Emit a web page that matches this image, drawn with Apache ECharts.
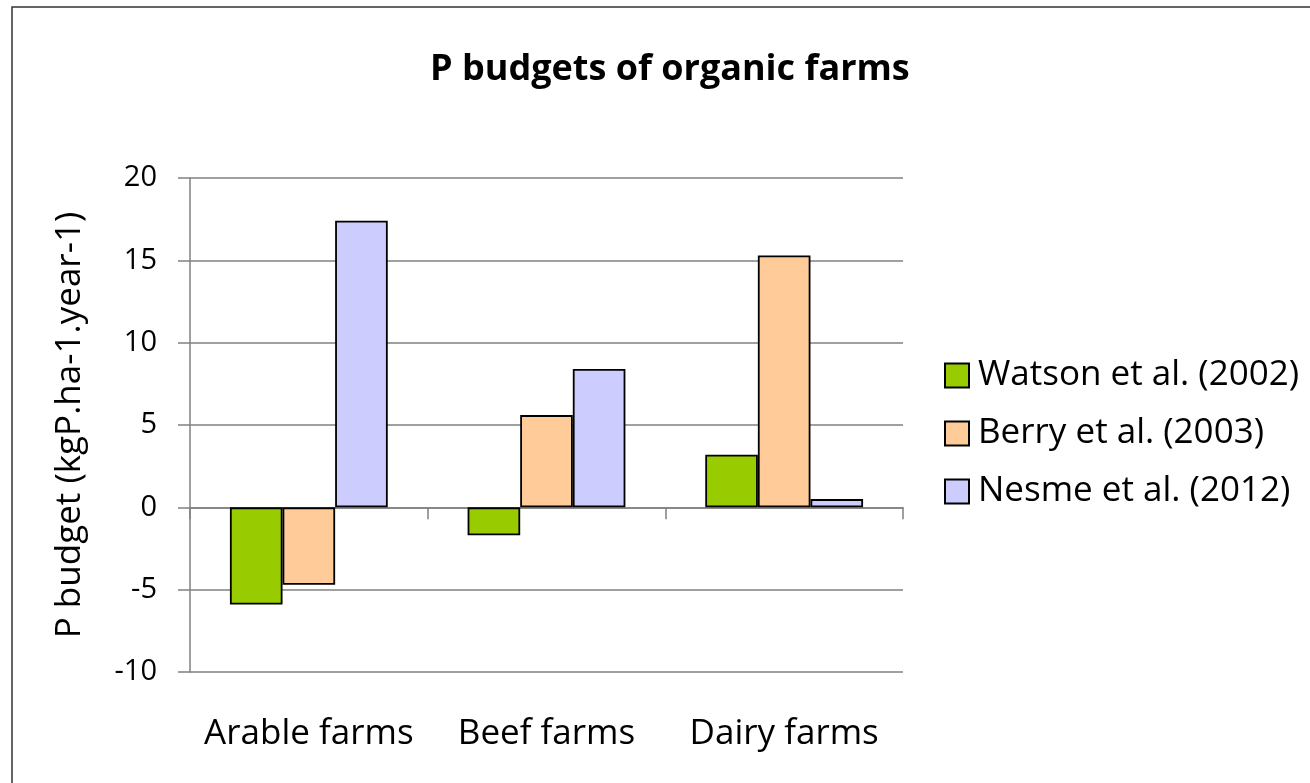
<!DOCTYPE html>
<html>
<head>
<meta charset="UTF-8">
<title>P budgets of organic farms</title>
<script src="https://cdn.jsdelivr.net/npm/echarts@6/dist/echarts.min.js"></script>
<style>
  html, body { margin: 0; padding: 0; background: #fff; }
</style>
</head>
<body>
<div id="main" style="width:1310px;height:783px;"></div>
<script>
var categories = ['Arable farms', 'Beef farms', 'Dairy farms'];
var seriesNames = ['Watson et al. (2002)', 'Berry et al. (2003)', 'Nesme et al. (2012)'];
var watson = [-5.9, -1.7, 3.2];
var berry = [-4.7, 5.6, 15.3];
var nesme = [17.4, 8.4, 0.5];
var colors = ['#99cc00', '#ffcc99', '#ccccff'];

var font = '"Open Sans", Lato, sans-serif';
var myChart = echarts.init(document.getElementById('main'));

function barSeries(name, data, color) {
    return {
        name: name,
        type: 'bar',
        xAxisIndex: 0,
        data: data,
        barGap: '0%',
        barCategoryGap: '33.6%',
        itemStyle: { color: color, borderColor: '#000', borderWidth: 1.8 }
    };
}

var option = {
    animation: false,
    textStyle: { fontFamily: font },
    title: {
        text: 'P budgets of organic farms',
        left: 425,
        top: 47,
        textStyle: { fontFamily: font, fontSize: 36, fontWeight: 'bold', color: '#000' }
    },
    graphic: [{
        type: 'rect',
        shape: { x: 12, y: 7, width: 1400, height: 900 },
        style: { fill: 'none', stroke: '#333', lineWidth: 1.5 }
    }],
    legend: {
        orient: 'vertical',
        left: 939,
        top: 353,
        itemWidth: 24,
        itemHeight: 24,
        itemGap: 23,
        icon: 'rect',
        data: seriesNames,
        textStyle: { fontFamily: font, fontSize: 35, color: '#000', padding: [0, 0, 0, 4] }
    },
    grid: { left: 190, right: 407, top: 178, bottom: 111 },
    xAxis: [{
        type: 'category',
        data: categories,
        position: 'bottom',
        axisLine: { show: false, onZero: false },
        axisTick: { show: false },
        axisLabel: { interval: 0, hideOverlap: false, fontFamily: font, fontSize: 35, color: '#000', margin: 45 }
    }, {
        type: 'category',
        data: categories,
        position: 'bottom',
        axisLine: { show: true, onZero: true, lineStyle: { color: '#808080', width: 1.5 } },
        axisTick: { show: true, length: 12, lineStyle: { color: '#808080', width: 1.5 } },
        axisLabel: { show: false }
    }],
    yAxis: {
        type: 'value',
        min: -10,
        max: 20,
        interval: 5,
        name: 'P budget (kgP.ha-1.year-1)',
        nameLocation: 'middle',
        nameGap: 102,
        nameTextStyle: { fontFamily: font, fontSize: 35, color: '#000' },
        axisLine: { show: true, lineStyle: { color: '#808080', width: 1.5 } },
        axisTick: { show: true, length: 12, lineStyle: { color: '#808080', width: 1.5 } },
        axisLabel: { fontFamily: font, fontSize: 29, color: '#000', margin: 33 },
        splitLine: { lineStyle: { color: '#808080', width: 1.5 } }
    },
    series: [
        barSeries(seriesNames[0], watson, colors[0]),
        barSeries(seriesNames[1], berry, colors[1]),
        barSeries(seriesNames[2], nesme, colors[2])
    ]
};
myChart.setOption(option);
</script>
</body>
</html>
